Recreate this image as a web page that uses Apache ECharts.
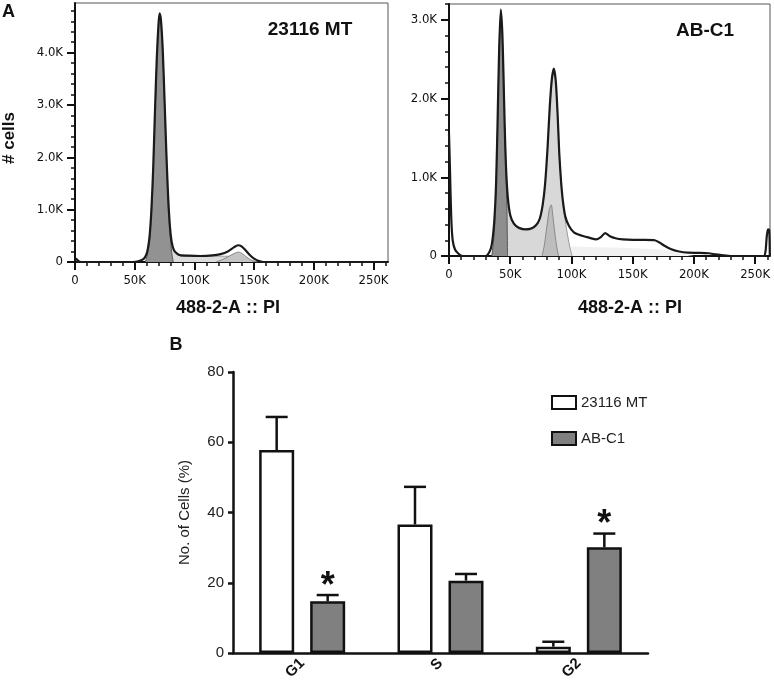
<!DOCTYPE html>
<html>
<head>
<meta charset="utf-8">
<script src="https://cdn.jsdelivr.net/npm/echarts@6/dist/echarts.min.js"></script>
<style>html,body{margin:0;padding:0;background:#fff}#c{width:774px;height:686px}</style>
</head>
<body>
<div id="c"></div>
<script>
// ---------- DATA ----------
// Panel A left: 23116 MT  (x in K units of 488-2-A :: PI, y = # cells)
const mtOutline = [[0,70],[1.5,50],[3,15],[5,0],[45,0],[52,10],[57,50],[59.5,130],[61,250],[62.5,500],[64,1000],[65.5,1800],[67,2900],[68.5,3900],[69.8,4500],[70.8,4750],[72,4620],[73.5,4050],[75,3100],[76.5,2100],[78,1250],[79.5,680],[81,380],[83,220],[85.5,160],[88,130],[95,120],[105,115],[115,125],[122,150],[128,200],[133,280],[136.5,320],[139.5,300],[143,220],[147,120],[151,50],[155,12],[158,0],[262,0]];
const mtG1 = [[59,0],[61,180],[62.5,430],[64,920],[65.5,1700],[67,2800],[68.5,3800],[69.8,4420],[70.8,4670],[72,4540],[73.5,3950],[75,3000],[76.5,2000],[78,1150],[79.5,560],[81,180],[82.3,0]];
const mtS = [[68,0],[72,130],[76,280],[79.5,420],[82,280],[85,150],[90,110],[105,105],[120,110],[130,110],[140,80],[148,30],[153,0]];
const mtG2 = [[118,0],[124,50],[129,110],[134,170],[137,190],[140,160],[144,90],[148,30],[151,0]];
// Panel A right: AB-C1
const abOutline = [[0,1550],[0.8,1100],[1.8,500],[3,200],[5,80],[8,25],[11,0],[30,0],[33,50],[35,150],[37,450],[38.5,950],[39.8,1800],[41,2650],[42.3,3130],[43.5,2850],[44.5,2300],[45.5,1650],[46.5,1150],[48,750],[50,520],[53,410],[57,360],[62,340],[67,350],[71,390],[74,470],[76.5,650],[78.5,920],[80.5,1380],[82.3,1900],[84,2250],[85.6,2380],[87.2,2220],[88.7,1800],[90,1320],[91.5,950],[93,700],[95,500],[98,380],[102,300],[108,260],[115,230],[120,210],[124,240],[127.5,290],[131,255],[136,225],[142,210],[150,205],[160,205],[168,200],[172,170],[176,130],[181,90],[187,60],[195,42],[205,40],[212,35],[218,20],[224,8],[230,0],[257,0],[258.5,60],[259.5,250],[260.5,340],[261.5,330],[262,0]];
const abG1 = [[35,0],[37,300],[38.5,900],[39.8,1750],[41,2600],[42.3,3080],[43.5,2800],[44.5,2250],[45.5,1600],[46.5,1050],[47.3,600],[47.8,0]];
const abS = [[44,0],[44.5,2000],[45.5,1610],[46.5,1110],[48,720],[50,500],[53,395],[57,345],[62,325],[67,335],[71,375],[74,455],[76.5,630],[78.5,900],[80.5,1350],[82.3,1860],[84,2210],[85.6,2340],[87.2,2180],[88.7,1770],[90,1290],[91.5,920],[93,670],[95,440],[97,250],[99,90],[100.5,0]];
const abG2 = [[76,0],[78,150],[80,380],[82,600],[83.5,650],[85,480],[87,220],[88.5,70],[89.5,0]];
const abTail = [[98,0],[100,120],[120,110],[150,100],[175,80],[190,30],[200,0]];

// Histogram axes ticks
const histXMax = 262.144;
const histXMajor = [0,50,100,150,200,250];
const mtYMax = 4950, abYMax = 3200;
const mtYMajor = [0,1000,2000,3000,4000];
const abYMajor = [0,1000,2000,3000];

// Panel B: bar chart
const phases = ['G1','S','G2'];
const mtMean = [57.8, 36.6, 1.8];
const mtSem  = [9.4, 10.7, 1.4];
const abMean = [14.7, 20.6, 30.1];
const abSem  = [1.8, 1.9, 3.9];
const abSig  = [1, 0, 1];
const mtSig  = [0, 0, 0];

// ---------- STYLE ----------
const narrow = "'Liberation Sans Narrow','DejaVu Sans Condensed',sans-serif";
const sans = "'Liberation Sans',Arial,sans-serif";
function minors(max, step, skipEvery){ const a=[]; for(let v=step; v<=max+1e-9; v+=step){ const r=Math.round(v*1000)/1000; if(Math.abs(r/skipEvery-Math.round(r/skipEvery))>1e-6) a.push(r);} return a; }

function xMajor(g){ return {type:'value', gridIndex:g, min:0, max:histXMax, position:'bottom',
  axisLine:{show:true, onZero:false, lineStyle:{color:'#111', width:2}},
  axisTick:{show:true, customValues:histXMajor, length:8, lineStyle:{color:'#111', width:2}},
  axisLabel:{customValues:histXMajor, margin:12, fontFamily:narrow, fontSize:13, color:'#111',
    formatter:v=> v===0?'0':Math.round(v)+'K'},
  splitLine:{show:false}}; }
function xMinor(g){ return {type:'value', gridIndex:g, min:0, max:histXMax, position:'bottom',
  axisLine:{show:false}, axisLabel:{show:false}, splitLine:{show:false},
  axisTick:{show:true, customValues:minors(262,10,50), length:4, lineStyle:{color:'#111', width:1.5}}}; }
function yMajor(g, max, majors){ return {type:'value', gridIndex:g, min:0, max:max, position:'left',
  axisLine:{show:true, onZero:false, lineStyle:{color:'#111', width:2}},
  axisTick:{show:true, customValues:majors, length:8, lineStyle:{color:'#111', width:2}},
  axisLabel:{customValues:majors, margin:12, fontFamily:narrow, fontSize:13, color:'#111',
    formatter:v=> v===0?'0':(v/1000).toFixed(1)+'K'},
  splitLine:{show:false}}; }
function yMinor(g, max){ return {type:'value', gridIndex:g, min:0, max:max, position:'left',
  axisLine:{show:false}, axisLabel:{show:false}, splitLine:{show:false},
  axisTick:{show:true, customValues:minors(max,200,1000), length:4, lineStyle:{color:'#111', width:1.5}}}; }

function area(data, xi, yi, fill, edge, z, ew){ return {type:'line', xAxisIndex:xi, yAxisIndex:yi, data:data,
  showSymbol:false, symbol:'none', smooth:0.25, z:z, silent:true,
  lineStyle:{color:edge, width:(ew===undefined?1:ew)}, areaStyle:{color:fill, opacity:1}}; }
function outline(data, xi, yi){ return {type:'line', xAxisIndex:xi, yAxisIndex:yi, data:data,
  showSymbol:false, symbol:'none', smooth:0.25, z:10, silent:true,
  lineStyle:{color:'#1a1a1a', width:2.2}}; }

const barW = 35, barGapPx = 16, off = (barW+barGapPx)/2;
function errData(mean, sem, sig){ return phases.map((p,i)=>[i, mean[i], mean[i]+sem[i], sig[i]]); }
function errSeries(mean, sem, sig, dx){ return {type:'custom', xAxisIndex:2, yAxisIndex:2, z:5, silent:true,
  data: errData(mean, sem, sig),
  renderItem:(params, api)=>{
    const i=api.value(0), m=api.value(1), t=api.value(2), s=api.value(3);
    const b=api.coord([i,m]), tp=api.coord([i,t]); const x=b[0]+dx;
    const st={stroke:'#111', lineWidth:2.5};
    const ch=[{type:'line', shape:{x1:x,y1:b[1],x2:x,y2:tp[1]}, style:st},
              {type:'line', shape:{x1:x-11,y1:tp[1],x2:x+11,y2:tp[1]}, style:st}];
    if(s) ch.push({type:'text', style:{text:'*', x:x, y:tp[1]-8, align:'center', verticalAlign:'middle',
      font:'bold 36px '+sans, fill:'#111'}});
    return {type:'group', children:ch};
  }}; }

const option = {
  animation:false, backgroundColor:'#fff',
  grid:[
    {left:75, top:3, width:313, height:259, show:true, borderColor:'#555', borderWidth:1, backgroundColor:'transparent'},
    {left:449, top:4, width:321, height:252, show:true, borderColor:'#555', borderWidth:1, backgroundColor:'transparent'},
    {left:233, top:372, width:415, height:281}
  ],
  xAxis:[
    xMajor(0), xMajor(1),
    {type:'category', gridIndex:2, data:phases,
      axisLine:{lineStyle:{color:'#111', width:2.5}},
      axisTick:{alignWithLabel:true, length:6, lineStyle:{color:'#111', width:2.5}},
      axisLabel:{rotate:45, margin:8, fontFamily:sans, fontSize:15, fontWeight:'bold', color:'#111'}},
    xMinor(0), xMinor(1)
  ],
  yAxis:[
    yMajor(0, mtYMax, mtYMajor), yMajor(1, abYMax, abYMajor),
    {type:'value', gridIndex:2, min:0, max:80, interval:20,
      name:'No. of Cells (%)', nameLocation:'middle', nameGap:41,
      nameTextStyle:{fontFamily:sans, fontSize:15, color:'#222'},
      axisLine:{show:true, lineStyle:{color:'#111', width:2.5}},
      axisTick:{show:true, length:5, lineStyle:{color:'#111', width:2.5}},
      axisLabel:{margin:9, fontFamily:sans, fontSize:15, color:'#222'},
      splitLine:{show:false}},
    yMinor(0, mtYMax), yMinor(1, abYMax)
  ],
  legend:{data:['23116 MT','AB-C1'], orient:'vertical', left:546, top:390, itemWidth:24, itemHeight:13,
    itemGap:21, icon:'rect', textStyle:{fontFamily:sans, fontSize:15, color:'#222'}},
  series:[
    area(mtS, 0, 0, '#dcdcdc', '#a0a0a0', 2),
    area(mtG2, 0, 0, '#c4c4c4', '#888', 3),
    area(mtG1, 0, 0, '#929292', '#555', 4),
    outline(mtOutline, 0, 0),
    area(abTail, 1, 1, '#f1f1f1', '#f1f1f1', 1, 0),
    area(abS, 1, 1, '#d8d8d8', '#999', 2),
    area(abG2, 1, 1, '#bdbdbd', '#888', 3),
    area(abG1, 1, 1, '#8e8e8e', '#555', 4),
    outline(abOutline, 1, 1),
    {name:'23116 MT', type:'bar', xAxisIndex:2, yAxisIndex:2, data:mtMean, barWidth:barW, barGap:(barGapPx/barW*100)+'%',
      itemStyle:{color:'#ffffff', borderColor:'#111', borderWidth:2.5}},
    {name:'AB-C1', type:'bar', xAxisIndex:2, yAxisIndex:2, data:abMean, barWidth:barW,
      itemStyle:{color:'#808080', borderColor:'#111', borderWidth:2.5}},
    errSeries(mtMean, mtSem, mtSig, -off),
    errSeries(abMean, abSem, abSig, off)
  ],
  graphic:[
    {type:'text', left:2, top:3, style:{text:'A', font:'bold 18px '+sans, fill:'#111'}},
    {type:'text', x:9, y:138, rotation:Math.PI/2, style:{text:'# cells', font:'bold 17px '+sans, fill:'#111', align:'center', verticalAlign:'middle'}},
    {type:'text', x:310, y:30, style:{text:'23116 MT', font:'bold 19px '+sans, fill:'#111', align:'center', verticalAlign:'middle'}},
    {type:'text', x:705, y:31, style:{text:'AB-C1', font:'bold 19px '+sans, fill:'#111', align:'center', verticalAlign:'middle'}},
    {type:'text', x:228, y:308, style:{text:'488-2-A :: PI', font:'bold 18px '+sans, fill:'#111', align:'center', verticalAlign:'middle'}},
    {type:'text', x:630, y:308, style:{text:'488-2-A :: PI', font:'bold 18px '+sans, fill:'#111', align:'center', verticalAlign:'middle'}},
    {type:'text', x:176, y:345, style:{text:'B', font:'bold 18px '+sans, fill:'#111', align:'center', verticalAlign:'middle'}}
  ]
};
const chart = echarts.init(document.getElementById('c'), null, {renderer:'canvas'});
chart.setOption(option);
</script>
</body>
</html>
